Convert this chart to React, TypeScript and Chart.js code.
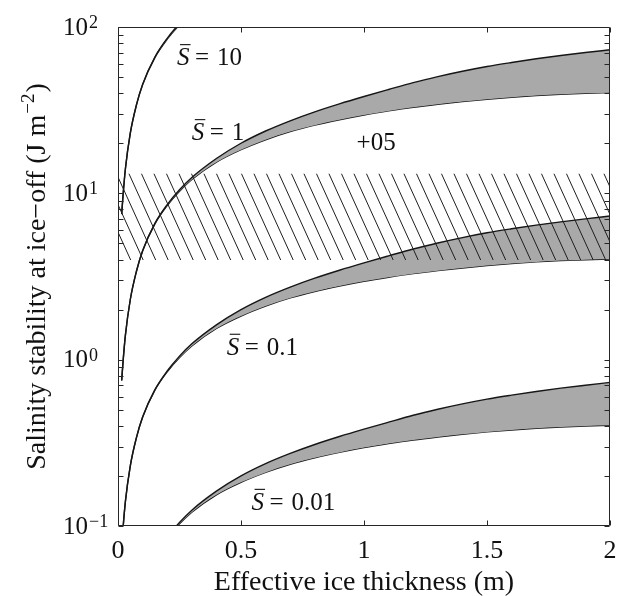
import React, { useEffect, useRef } from "react";
import { Chart, registerables } from "chart.js";

Chart.register(...registerables);

// ---------- data ----------
const thickness = [0.015, 0.02, 0.03, 0.05, 0.075, 0.1, 0.15, 0.2, 0.25, 0.3, 0.4, 0.5, 0.6, 0.7, 0.8, 0.9, 1.0, 1.1, 1.2, 1.3, 1.4, 1.5, 1.6, 1.7, 1.8, 1.9, 2.0];

const s10Lower = [7.5, 9.5, 14, 23, 34, 45, 65.5, 84.5, 103, 121, 154, 183, 210, 235, 257, 277, 296, 313, 329, 343, 356, 368, 378, 387, 394, 399, 403];
const s10Upper = [7.5, 9.5, 14, 23, 34, 45.2, 66, 85.5, 105, 124.5, 162, 200, 237, 273, 309, 345, 382, 421, 463, 503, 542, 579, 612, 644, 674, 702, 730];

const s1Lower = [0.75, 0.95, 1.4, 2.3, 3.4, 4.5, 6.55, 8.45, 10.3, 12.1, 15.4, 18.3, 21.0, 23.5, 25.7, 27.7, 29.6, 31.3, 32.9, 34.3, 35.6, 36.8, 37.8, 38.7, 39.4, 39.9, 40.3];
const s1Upper = [0.75, 0.95, 1.4, 2.3, 3.4, 4.52, 6.6, 8.55, 10.5, 12.45, 16.2, 20.0, 23.7, 27.3, 30.9, 34.5, 38.2, 42.1, 46.3, 50.3, 54.2, 57.9, 61.2, 64.4, 67.4, 70.2, 73.0];

const s01Lower = [0.075, 0.095, 0.14, 0.23, 0.34, 0.45, 0.655, 0.845, 1.03, 1.21, 1.54, 1.83, 2.1, 2.35, 2.57, 2.77, 2.96, 3.13, 3.29, 3.43, 3.56, 3.68, 3.78, 3.87, 3.94, 3.99, 4.03];
const s01Upper = [0.075, 0.095, 0.14, 0.23, 0.34, 0.452, 0.66, 0.855, 1.05, 1.245, 1.62, 2.0, 2.37, 2.73, 3.09, 3.45, 3.82, 4.21, 4.63, 5.03, 5.42, 5.79, 6.12, 6.44, 6.74, 7.02, 7.3];

const s001Lower = [0.0075, 0.0095, 0.014, 0.023, 0.034, 0.045, 0.0655, 0.0845, 0.103, 0.121, 0.154, 0.183, 0.21, 0.235, 0.257, 0.277, 0.296, 0.313, 0.329, 0.343, 0.356, 0.368, 0.378, 0.387, 0.394, 0.399, 0.403];
const s001Upper = [0.0075, 0.0095, 0.014, 0.023, 0.034, 0.0452, 0.066, 0.0855, 0.105, 0.1245, 0.162, 0.2, 0.237, 0.273, 0.309, 0.345, 0.382, 0.421, 0.463, 0.503, 0.542, 0.579, 0.612, 0.644, 0.674, 0.702, 0.73];

const hatchX = [0, 2];
const hatchLow = 3.97;
const hatchHigh = 13.1;

const xTickValues = [0, 0.5, 1, 1.5, 2];
const xTickLabels = ["0", "0.5", "1", "1.5", "2"];
const yTickValues = [0.1, 1, 10, 100];
const yTickExponents = ["\u22121", "0", "1", "2"];
const yMinorMultipliers = [2, 3, 4, 5, 6, 7, 8, 9];

const bandLabels = ["10", "1", "0.1", "0.01"];
const bandLabelX = [0.24, 0.3, 0.442, 0.543];
const bandLabelY = [59, 20.9, 1.07, 0.125];

const noteText = "+05";
const noteX = 0.97;
const noteY = 18.2;

const xTitle = "Effective ice thickness (m)";
const yTitleMain = "Salinity stability at ice\u2212off (J m";
const yTitleSup = "\u22122";
const yTitleTail = ")";

// ---------- styles ----------
const SERIF = '"Liberation Serif", "Times New Roman", serif';
const INK = "#161616";
const BAND_FILL = "#a9a9a9";

function makeHatch(): CanvasPattern | string {
  const c = document.createElement("canvas");
  c.width = 25;
  c.height = 55;
  const g = c.getContext("2d");
  if (!g) return "rgba(0,0,0,0)";
  g.strokeStyle = "#1e1e1e";
  g.lineWidth = 1;
  for (let k = -4; k <= 2; k++) {
    const x0 = k * 12.5;
    g.beginPath();
    g.moveTo(x0, 0);
    g.lineTo(x0 + 25, 55);
    g.stroke();
  }
  return g.createPattern(c, "repeat") || "rgba(0,0,0,0)";
}

function bandDatasets(upper: number[], lower: number[]) {
  const common = {
    borderColor: INK,
    borderWidth: 1.4,
    pointRadius: 0,
    cubicInterpolationMode: "monotone" as const,
  };
  return [
    {
      ...common,
      data: thickness.map((x, i) => ({ x, y: upper[i] })),
      fill: "+1",
      backgroundColor: BAND_FILL,
    },
    {
      ...common,
      data: thickness.map((x, i) => ({ x, y: lower[i] })),
      fill: false,
    },
  ];
}

const decorPlugin = {
  id: "decor",
  afterDraw(chart: any) {
    const { ctx, chartArea: a, scales } = chart;
    const xs = scales.x;
    const ys = scales.y;
    ctx.save();
    ctx.strokeStyle = "#262626";
    ctx.fillStyle = "#111";
    ctx.lineWidth = 1;

    const L = Math.round(a.left) + 0.5;
    const R = Math.round(a.right) - 0.5;
    const T = Math.round(a.top) + 0.5;
    const B = Math.round(a.bottom) - 0.5;

    // box
    ctx.beginPath();
    ctx.rect(L, T, R - L, B - T);
    ctx.stroke();

    // x ticks
    const tl = 5;
    ctx.beginPath();
    xTickValues.forEach((v) => {
      const px = Math.round(xs.getPixelForValue(v)) + 0.5;
      ctx.moveTo(px, B);
      ctx.lineTo(px, B - tl);
      ctx.moveTo(px, T);
      ctx.lineTo(px, T + tl);
    });
    // y ticks (major + minor)
    const yAll: number[] = [];
    yTickValues.forEach((v, i) => {
      yAll.push(v);
      if (i < yTickValues.length - 1) yMinorMultipliers.forEach((m) => yAll.push(v * m));
    });
    yAll.forEach((v) => {
      const py = Math.round(ys.getPixelForValue(v)) + 0.5;
      ctx.moveTo(L, py);
      ctx.lineTo(L + tl, py);
      ctx.moveTo(R, py);
      ctx.lineTo(R - tl, py);
    });
    ctx.stroke();

    // x tick labels
    ctx.font = `26px ${SERIF}`;
    ctx.textAlign = "center";
    ctx.textBaseline = "alphabetic";
    xTickValues.forEach((v, i) => {
      ctx.fillText(xTickLabels[i], xs.getPixelForValue(v), a.bottom + 32);
    });

    // y tick labels 10^k
    yTickValues.forEach((v, i) => {
      const py = ys.getPixelForValue(v);
      ctx.font = `25px ${SERIF}`;
      ctx.textAlign = "left";
      ctx.textBaseline = "middle";
      ctx.fillText("10", 63, py + 1);
      const w = ctx.measureText("10").width;
      ctx.font = `18px ${SERIF}`;
      ctx.textBaseline = "alphabetic";
      ctx.fillText(yTickExponents[i], 63 + w + 1, py + 1);
    });

    // x title
    ctx.font = `28px ${SERIF}`;
    ctx.textAlign = "center";
    ctx.textBaseline = "alphabetic";
    ctx.fillText(xTitle, (a.left + a.right) / 2, 590);

    // y title (rotated)
    ctx.save();
    ctx.translate(45, (a.top + a.bottom) / 2);
    ctx.rotate(-Math.PI / 2);
    ctx.textAlign = "left";
    ctx.font = `28px ${SERIF}`;
    const w1 = ctx.measureText(yTitleMain).width;
    const w3 = ctx.measureText(yTitleTail).width;
    ctx.font = `19px ${SERIF}`;
    const w2 = ctx.measureText(yTitleSup).width;
    let x0 = -(w1 + w2 + w3 + 2) / 2;
    ctx.font = `28px ${SERIF}`;
    ctx.fillText(yTitleMain, x0, 0);
    x0 += w1 + 1;
    ctx.font = `19px ${SERIF}`;
    ctx.fillText(yTitleSup, x0, -11);
    x0 += w2 + 1;
    ctx.font = `28px ${SERIF}`;
    ctx.fillText(yTitleTail, x0, 0);
    ctx.restore();

    // band labels: S-bar = value
    bandLabels.forEach((txt, i) => {
      const px = xs.getPixelForValue(bandLabelX[i]);
      const py = ys.getPixelForValue(bandLabelY[i]);
      ctx.textAlign = "left";
      ctx.textBaseline = "alphabetic";
      ctx.font = `italic 25px ${SERIF}`;
      ctx.fillText("S", px, py);
      const sw = ctx.measureText("S").width;
      ctx.beginPath();
      ctx.lineWidth = 1.2;
      ctx.moveTo(px + 3, py - 20.5);
      ctx.lineTo(px + sw + 1, py - 20.5);
      ctx.stroke();
      ctx.font = `25px ${SERIF}`;
      ctx.fillText("=", px + 18, py);
      ctx.fillText(txt, px + 40, py);
    });

    // note
    ctx.font = `25px ${SERIF}`;
    ctx.textAlign = "left";
    ctx.fillText(noteText, xs.getPixelForValue(noteX), ys.getPixelForValue(noteY));

    ctx.restore();
  },
};

export default function App() {
  const ref = useRef<HTMLCanvasElement>(null);

  useEffect(() => {
    if (!ref.current) return;
    const hatch = makeHatch();
    const datasets: any[] = [
      {
        data: hatchX.map((x) => ({ x, y: hatchHigh })),
        fill: "+1",
        backgroundColor: hatch,
        borderColor: "rgba(0,0,0,0)",
        borderWidth: 1,
        pointRadius: 0,
      },
      {
        data: hatchX.map((x) => ({ x, y: hatchLow })),
        fill: false,
        borderColor: "rgba(0,0,0,0)",
        borderWidth: 1,
        pointRadius: 0,
      },
      ...bandDatasets(s10Upper, s10Lower),
      ...bandDatasets(s1Upper, s1Lower),
      ...bandDatasets(s01Upper, s01Lower),
      ...bandDatasets(s001Upper, s001Lower),
    ];

    const chart = new Chart(ref.current, {
      type: "line",
      data: { datasets },
      options: {
        animation: false,
        responsive: false,
        devicePixelRatio: 1,
        events: [],
        layout: { padding: { left: 118, right: 17, top: 27, bottom: 70 } },
        plugins: {
          legend: { display: false },
          tooltip: { enabled: false },
          title: { display: false },
        },
        scales: {
          x: { type: "linear", min: 0, max: 2, display: false },
          y: { type: "logarithmic", min: 0.1, max: 100, display: false },
        },
      },
      plugins: [decorPlugin],
    });
    return () => chart.destroy();
  }, []);

  return (
    <div style={{ position: "absolute", left: 0, top: 0, width: 627, height: 596, background: "#fff" }}>
      <canvas ref={ref} width={627} height={596} style={{ display: "block" }} />
    </div>
  );
}
